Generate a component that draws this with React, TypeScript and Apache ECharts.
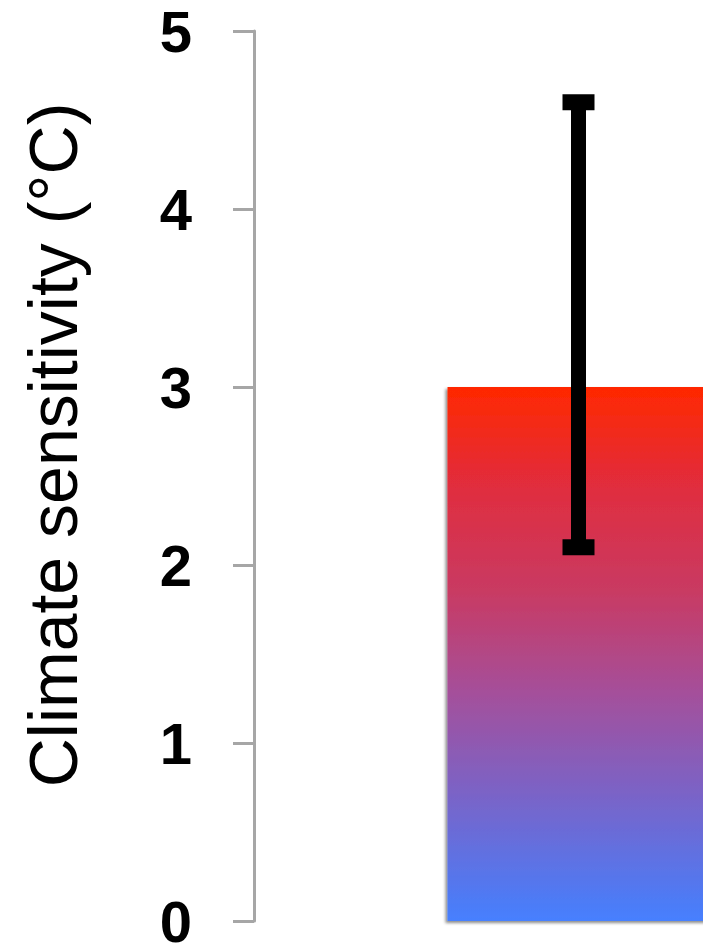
import React, { useEffect, useRef } from "react";
import * as echarts from "echarts";

const categories = ["Climate sensitivity"];
const values = [3.0];
const errLow = [2.1];
const errHigh = [4.6];
const yMin = 0;
const yMax = 5;
const yInterval = 1;
const axisTitle = "Climate sensitivity (°C)";

export default function App() {
  const ref = useRef<HTMLDivElement>(null);
  useEffect(() => {
    if (!ref.current) return;
    const chart = echarts.init(ref.current, null, { renderer: "svg" });
    const errData = categories.map((c, i) => [i, errLow[i], errHigh[i]]);
    chart.setOption({
      animation: false,
      backgroundColor: "#ffffff",
      grid: { left: 254, right: 0, top: 31, bottom: 31, containLabel: false },
      xAxis: {
        type: "category",
        data: categories,
        show: false,
      },
      yAxis: {
        type: "value",
        min: yMin,
        max: yMax,
        interval: yInterval,
        splitLine: { show: false },
        axisLine: { show: true, lineStyle: { color: "#a6a6a6", width: 3 } },
        axisTick: { show: true, length: 21, lineStyle: { color: "#a6a6a6", width: 3 } },
        axisLabel: {
          margin: 62,
          fontFamily: "'Liberation Sans', Arial, sans-serif",
          fontWeight: "bold",
          fontSize: 58,
          color: "#000",
          padding: [10, 0, 0, 0],
        },
      },
      graphic: [
        {
          type: "text",
          x: 53,
          y: 445,
          rotation: Math.PI / 2,
          style: {
            text: axisTitle,
            fontFamily: "'Liberation Sans', Arial, sans-serif",
            fontSize: 68,
            fill: "#000",
            align: "center",
            verticalAlign: "middle",
          },
        },
      ],
      series: [
        {
          type: "bar",
          data: values,
          barWidth: 262,
          itemStyle: {
            color: new echarts.graphic.LinearGradient(0, 0, 0, 1, [
              { offset: 0, color: "#ff2800" },
              { offset: 0.19, color: "#e02d3f" },
              { offset: 0.38, color: "#c93a62" },
              { offset: 0.57, color: "#a54f9a" },
              { offset: 0.75, color: "#7d62c4" },
              { offset: 0.94, color: "#5278f0" },
              { offset: 1, color: "#4680ff" },
            ]),
            shadowColor: "rgba(0,0,0,0.45)",
            shadowBlur: 3,
            shadowOffsetX: -2,
            shadowOffsetY: 2,
          },
          z: 2,
        },
        {
          type: "custom",
          data: errData,
          z: 5,
          renderItem: (params: any, api: any) => {
            const x = api.value(0);
            const lo = api.coord([x, api.value(1)]);
            const hi = api.coord([x, api.value(2)]);
            return {
              type: "group",
              children: [
                { type: "rect", shape: { x: lo[0] - 7.5, y: hi[1], width: 15, height: lo[1] - hi[1] }, style: { fill: "#000" } },
                { type: "rect", shape: { x: hi[0] - 16, y: hi[1] - 8, width: 32, height: 16 }, style: { fill: "#000" } },
                { type: "rect", shape: { x: lo[0] - 16, y: lo[1] - 8, width: 32, height: 16 }, style: { fill: "#000" } },
              ],
            };
          },
        },
      ],
    });
    return () => chart.dispose();
  }, []);
  return (
    <div style={{ position: "fixed", left: 0, top: 0, width: 703, height: 952, overflow: "hidden", background: "#fff" }}>
      <div ref={ref} style={{ width: 903, height: 952 }} />
    </div>
  );
}
